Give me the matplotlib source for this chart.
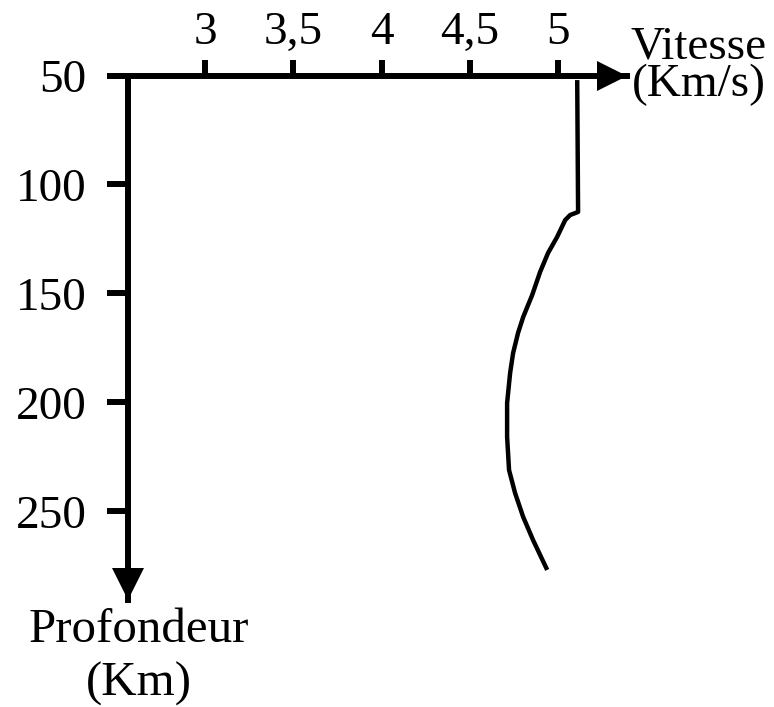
import matplotlib
matplotlib.use("Agg")
import matplotlib.pyplot as plt
from matplotlib.transforms import ScaledTranslation

plt.rcParams['font.family'] = ['Liberation Serif', 'DejaVu Serif']

# Data
depth_km = [52.1, 112.6, 114.0, 116.3, 124.1, 131.4, 140.1, 150.7, 160.8,
            168.1, 177.3, 186.5, 200.2, 215.8, 231.0, 241.5, 252.5, 263.1, 276.8]
speed_kms = [5.108, 5.113, 5.068, 5.040, 4.994, 4.943, 4.898, 4.853, 4.802,
             4.773, 4.745, 4.728, 4.711, 4.711, 4.722, 4.756, 4.802, 4.858, 4.938]
x_ticks = [3, 3.5, 4, 4.5, 5]
x_tick_labels = ["3", "3,5", "4", "4,5", "5"]
y_ticks = [50, 100, 150, 200, 250]
y_tick_labels = ["50", "100", "150", "200", "250"]

W, H = 774, 707
fig = plt.figure(figsize=(W / 100, H / 100), dpi=100)
ax = fig.add_axes([113 / W, 1 - 600 / H, 514 / W, 524.5 / H])
ax.set_xlim(2.479, 5.39)
ax.set_ylim(290.6, 50)

ax.plot(speed_kms, depth_km, color='black', lw=3.2, solid_joinstyle='round',
        solid_capstyle='butt')

lw_axis = 4.3
for s in ['bottom', 'right']:
    ax.spines[s].set_visible(False)
ax.spines['top'].set_linewidth(lw_axis)
ax.spines['left'].set_linewidth(lw_axis)
left_x = 2.564
ax.spines['left'].set_position(('data', left_x))

ax.xaxis.set_ticks_position('top')
ax.set_xticks(x_ticks)
ax.set_xticklabels(x_tick_labels)
ax.set_yticks(y_ticks)
ax.set_yticklabels(y_tick_labels)
ax.tick_params(axis='x', direction='out', length=11.5, width=4.3, pad=4,
               labelsize=34)
ax.tick_params(axis='y', direction='out', length=15, width=4.3, pad=15,
               labelsize=34)

# arrow heads
off_x = ScaledTranslation(-15 / 100, 0, fig.dpi_scale_trans)
ax.plot([1], [1], marker='>', ms=22, color='black', mew=0,
        transform=ax.transAxes + off_x, clip_on=False)
off_y = ScaledTranslation(0, 16 / 100, fig.dpi_scale_trans)
ax.plot([left_x], [0], marker='v', ms=23, color='black', mew=0,
        transform=ax.get_xaxis_transform() + off_y, clip_on=False)

fig.text(699 / W, 1 - 96 / H, "Vitesse\n(Km/s)", ha='center', va='baseline',
         multialignment='center', fontsize=34, linespacing=0.845)
fig.text(139 / W, 1 - 696 / H, "Profondeur\n(Km)", ha='center', va='baseline',
         multialignment='center', fontsize=35.3, linespacing=1.3)

fig.savefig("out.png", dpi=100, facecolor='white')
